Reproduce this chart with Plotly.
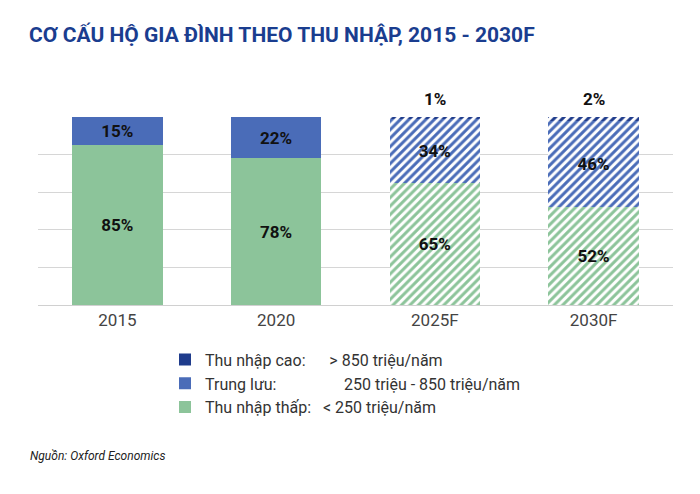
import plotly.graph_objects as go

years = ['2015', '2020', '2025F', '2030F']
thap = [85, 78, 65, 52]
trung = [15, 22, 34, 46]
cao = [0, 0, 1, 2]
forecast = [False, False, True, True]

c_thap = '#8cc49a'
c_trung = '#4a6cb8'
c_cao = '#1f3c8c'

shapes = ['/' if f else '' for f in forecast]


def bar(name, vals, color, show_text=True):
    return go.Bar(
        x=years, y=vals, name=name,
        text=[f'{v}%' if show_text and v else '' for v in vals],
        textposition='inside', insidetextanchor='middle',
        textfont=dict(size=17, color='#111', family='Roboto', weight='bold'),
        marker=dict(color=color, line=dict(width=0),
                    pattern=dict(shape=shapes, fgcolor=[color] * len(years),
                                 bgcolor=['white'] * len(years),
                                 size=6, solidity=0.5, fillmode='replace')),
        width=0.57,
    )


fig = go.Figure()
fig.add_trace(bar('Thu nhập thấp:   < 250 triệu/năm', thap, c_thap))
fig.add_trace(bar('Trung lưu:                 250 triệu - 850 triệu/năm', trung, c_trung))
fig.add_trace(bar('Thu nhập cao:      > 850 triệu/năm', cao, c_cao, show_text=False))

for yr, a, b, c in zip(years, thap, trung, cao):
    if c:
        fig.add_annotation(x=yr, y=a + b + c, text=f'<b>{c}%</b>', showarrow=False,
                           yshift=18, font=dict(size=17, color='#111', family='Roboto'))

fig.update_layout(
    barmode='stack',
    width=700, height=494,
    paper_bgcolor='white', plot_bgcolor='white',
    margin=dict(l=30, r=35, t=109, b=197),
    font=dict(family='Roboto', color='#444'),
    title=dict(text='<b>CƠ CẤU HỘ GIA ĐÌNH THEO THU NHẬP, 2015 - 2030F</b>',
               x=0.03, xanchor='left', y=0.96, yanchor='top',
               font=dict(size=21, color='#1a3d8f', family='Roboto')),
    xaxis=dict(tickfont=dict(size=17, color='#444'), showline=True, linecolor='#d0d0d0'),
    yaxis=dict(range=[0, 100], dtick=20, showticklabels=False, gridcolor='#d6d6d6',
               zeroline=False),
    legend=dict(orientation='v', x=0.2, xanchor='left', y=-0.2, yanchor='top',
                traceorder='reversed', font=dict(size=16, color='#333'),
                itemwidth=30),
    showlegend=True,
)
fig.add_annotation(xref='paper', yref='paper', x=-0.015, y=-0.85, xanchor='left',
                   text='<i>Nguồn: Oxford Economics</i>', showarrow=False,
                   font=dict(size=12, color='#222'))

fig.write_html('out.html')
